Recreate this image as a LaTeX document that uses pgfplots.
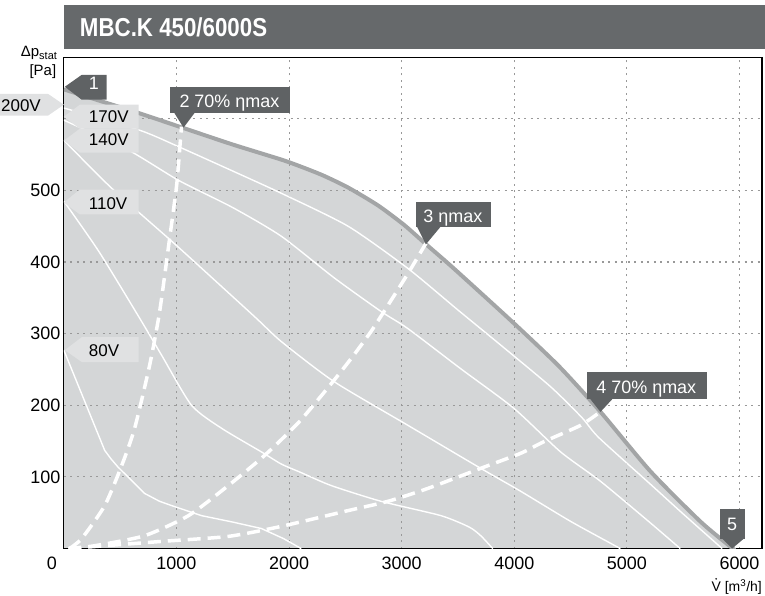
\documentclass[border=0pt]{standalone}
\usepackage{pgfplots}
\pgfplotsset{compat=1.18}
\usepackage{fontspec}
\setmainfont{Liberation Sans}
\newfontfamily\titlefont[FakeStretch=0.86]{Liberation Sans}
\definecolor{fillg}{HTML}{D4D6D7}
\definecolor{bandg}{HTML}{A3A5A6}
\definecolor{callg}{HTML}{5F6264}
\definecolor{barg}{HTML}{66696B}
\definecolor{labg}{HTML}{E0E1E2}
\definecolor{gridg}{HTML}{999999}
\begin{document}
\begin{tikzpicture}
\begin{scope}[x=1pt,y=-1pt]
\path[use as bounding box] (0,0) rectangle (765,597);
\fill[barg] (62,5) rectangle (765,49);
\node[anchor=base west, text=white, font=\titlefont\bfseries\fontsize{26}{30}\selectfont, inner sep=0] at (78,37) {MBC.K 450/6000S};
\end{scope}
\begin{axis}[
 at={(62pt,-550pt)}, anchor=south west,
 scale only axis, width=700pt, height=492pt,
 xmin=0, xmax=6200, ymin=0, ymax=685,
 set layers,
 axis line style={black, line width=1.3pt},
 xtick={1000,2000,...,6000}, ytick={100,200,...,600},
 yticklabels={100,200,300,400,500,{}},
 extra x ticks={0}, extra x tick style={grid=none, xticklabel style={xshift=-12pt}},
 scaled ticks=false,
 /pgf/number format/1000 sep={},
 /pgf/number format/assume math mode=true,
 major tick length=0pt,
 tick label style={font=\fontsize{18}{20}\selectfont},
 xticklabel style={yshift=-5pt},
 grid=major,
 major grid style={gridg, line width=1.1pt, dash pattern=on 2pt off 4.5pt},
]
% filled operating range
\addplot[fill=fillg, draw=none, on layer=axis background, smooth, tension=0.4] coordinates {
(0,643) (300,628) (664,610) (1063,589) (1500,566) (1931,545) (2108,535) (2300,523) (2524,506) (2790,481) (3020,454) (3215,427) (3463,393) (4000,316) (4400,256) (4765,193) (5208,110) (5651,40) (5917,5) (5960,0)} \closedcycle;
% top band
\addplot[bandg, line width=4pt, smooth, tension=0.4] coordinates {
(0,641) (300,626) (664,608) (1063,587) (1500,564) (1931,543) (2108,533) (2300,521) (2524,504) (2790,479) (3020,452) (3215,425) (3463,391) (4000,314) (4400,254) (4765,191) (5208,108) (5651,38) (5917,3) (5960,-2)};
% speed curves
\addplot[white, line width=1.4pt, smooth, tension=0.4] coordinates {
(0,615) (673,584) (1019,561) (1500,527) (1931,496) (2524,450) (3056,391) (3500,333) (3880,284) (4322,226) (4600,183) (4750,155) (5208,90) (5474,52) (5846,0)};
\addplot[white, line width=1.4pt, smooth, tension=0.4] coordinates {
(0,598) (576,556) (1019,514) (1500,476) (1931,436) (2400,378) (2817,331) (3056,307) (3525,251) (3995,196) (4411,135) (4765,94) (5200,37) (5474,0)};
\addplot[white, line width=1.4pt, smooth, tension=0.4] coordinates {
(0,570) (425,503) (1001,423) (1692,324) (1931,289) (2400,233) (3056,172) (3702,112) (4057,80) (4500,38) (4942,0)};
\addplot[white, line width=1.4pt, smooth, tension=0.4] coordinates {
(0,485) (310,415) (664,324) (868,270) (1134,200) (1400,168) (1754,135) (1931,118) (2108,106) (2374,88) (2817,66) (3348,46) (3600,30) (3702,18) (3809,0)};
\addplot[white, line width=1.4pt] coordinates {
(0,277) (363,137) (420,125) (480,114) (576,99) (717,77) (850,66) (957,60) (1222,46) (1500,37) (1754,28) (1950,14) (2108,0)};
% efficiency lines
\addplot[white, line width=3.5pt, dash pattern=on 13pt off 7pt, smooth, tension=0.4] coordinates {
(50,0) (159,14) (363,60) (514,116) (629,168) (762,256) (850,330) (930,422) (1001,506) (1030,560) (1045,589)};
\addplot[white, line width=3.5pt, dash pattern=on 13pt off 7pt, smooth, tension=0.4] coordinates {
(40,0) (275,4) (717,18) (1107,46) (1461,88) (1754,126) (1931,152) (2108,180) (2374,230) (2550,265) (2728,303) (2900,345) (3060,385) (3215,426)};
\addplot[white, line width=3.5pt, dash pattern=on 13pt off 7pt, smooth, tension=0.4] coordinates {
(40,0) (868,10) (1461,17) (1931,31) (2524,53) (2879,66) (3233,84) (3702,112) (4057,133) (4260,149) (4588,172) (4765,191)};
\end{axis}
\begin{scope}[x=1pt,y=-1pt]
% voltage labels
\fill[labg] (-2,94) -- (46,94) -- (62,105) -- (46,116) -- (-2,116) -- cycle;
\fill[labg] (62,117) -- (78,105) -- (137,105) -- (137,129) -- (78,129) -- cycle;
\fill[labg] (62,141) -- (78,129) -- (137,129) -- (137,153) -- (78,153) -- cycle;
\fill[labg] (62,203) -- (78,190) -- (137,190) -- (137,215) -- (78,215) -- cycle;
\fill[labg] (63,351) -- (80,338) -- (137,338) -- (137,363) -- (80,363) -- cycle;
\begin{scope}[every node/.style={anchor=base west, inner sep=0, font=\fontsize{17}{19}\selectfont}]
\node at (-1,112) {200V};
\node at (87,123) {170V};
\node at (87,146) {140V};
\node at (87,210) {110V};
\node at (87,357) {80V};
\end{scope}
% callouts
\fill[callg] (63,87) -- (80,75) -- (105,75) -- (105,100) -- (80,100) -- cycle;
\fill[callg] (168,87) rectangle (289,113);
\fill[callg] (172,112) -- (194,112) -- (182,128) -- cycle;
\fill[callg] (415,203) rectangle (490,228);
\fill[callg] (416,227) -- (440,227) -- (425,245) -- cycle;
\fill[callg] (587,373) rectangle (707,400);
\fill[callg] (589,399) -- (613,399) -- (600,413) -- cycle;
\fill[callg] (720,510) rectangle (745,540);
\fill[callg] (721,539) -- (745,539) -- (732,550) -- cycle;
\begin{scope}[every node/.style={anchor=base, inner sep=0, text=white, font=\fontsize{18}{20}\selectfont}]
\node at (92,90) {1};
\node at (228,108) {2 70\% ηmax};
\node at (452,223) {3 ηmax};
\node at (646,395) {4 70\% ηmax};
\node at (732,532) {5};
\end{scope}
% axis titles
\node[anchor=base, inner sep=0, font=\fontsize{15}{17}\selectfont] at (37,57) {Δp\raisebox{-3pt}{\fontsize{11}{12}\selectfont stat}};
\node[anchor=base, inner sep=0, font=\fontsize{15}{17}\selectfont] at (41,76) {[Pa]};
\node[anchor=base east, inner sep=0, font=\fontsize{14}{16}\selectfont] (vl) at (762,593) {V [m\textsuperscript{3}/h]};
\fill[black] ([xshift=4.7pt, yshift=12.6pt]vl.base west) circle (0.9pt);
\end{scope}
\end{tikzpicture}
\end{document}
